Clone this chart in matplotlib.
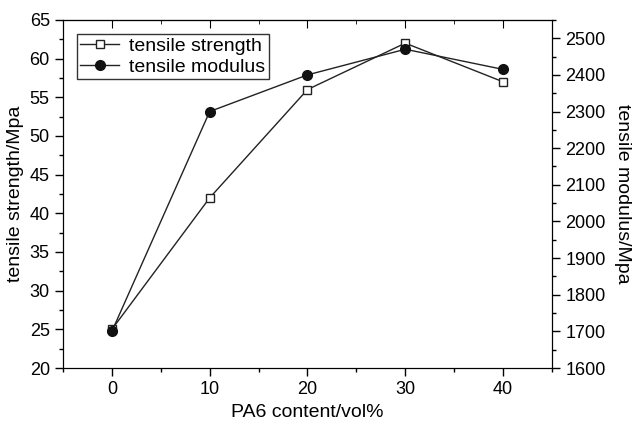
import matplotlib
matplotlib.use('Agg')
import matplotlib.pyplot as plt
from matplotlib.ticker import MultipleLocator

plt.rcParams['font.family'] = ['Liberation Sans', 'DejaVu Sans']
plt.rcParams['font.size'] = 13

# data
content = [0, 10, 20, 30, 40]
strength = [25, 42, 56, 62, 57]
modulus = [1700, 2300, 2400, 2470, 2415]

fig = plt.figure(figsize=(6.33, 4.24), dpi=100)
ax = fig.add_axes([0.0995, 0.132, 0.7725, 0.821])
ax2 = ax.twinx()

l1, = ax.plot(content, strength, color='#222222', lw=1, marker='s', ms=5.5,
              mfc='white', mec='#222222', mew=1, label='tensile strength')
l2, = ax2.plot(content, modulus, color='#222222', lw=1, marker='o', ms=7,
               mfc='#111111', mec='#111111', label='tensile modulus')

ax.set_xlim(-5, 45)
ax.set_ylim(20, 65)
ax2.set_ylim(1600, 2550)

ax.xaxis.set_major_locator(MultipleLocator(10))
ax.xaxis.set_minor_locator(MultipleLocator(5))
ax.yaxis.set_major_locator(MultipleLocator(5))
ax.yaxis.set_minor_locator(MultipleLocator(2.5))
ax2.yaxis.set_minor_locator(MultipleLocator(50))
ax2.set_yticks(range(1600, 2501, 100))

ax.tick_params(axis='x', which='both', direction='out', top=False)
ax.tick_params(which='major', length=6, width=1)
ax.tick_params(which='minor', length=3, width=1)
ax2.tick_params(which='major', length=6, width=1)
ax2.tick_params(which='minor', length=3, width=1)

# top axis: inward ticks, no labels
sec = ax.secondary_xaxis('top')
sec.xaxis.set_major_locator(MultipleLocator(10))
sec.xaxis.set_minor_locator(MultipleLocator(5))
sec.tick_params(which='major', direction='in', length=6, labeltop=False)
sec.tick_params(which='minor', direction='in', length=3)

ax.set_xlabel('PA6 content/vol%', fontsize=14)
ax.set_ylabel('tensile strength/Mpa', fontsize=14)
ax2.set_ylabel('tensile modulus/Mpa', fontsize=14, rotation=-90, labelpad=18)

leg = ax.legend(handles=[l1, l2], loc='upper left', frameon=True, fancybox=False,
                edgecolor='black', fontsize=14, handlelength=2.0,
                borderaxespad=0.7, borderpad=0.2, labelspacing=0.15,
                handletextpad=0.5)
leg.get_frame().set_linewidth(1)

fig.savefig('out.png', dpi=100)
